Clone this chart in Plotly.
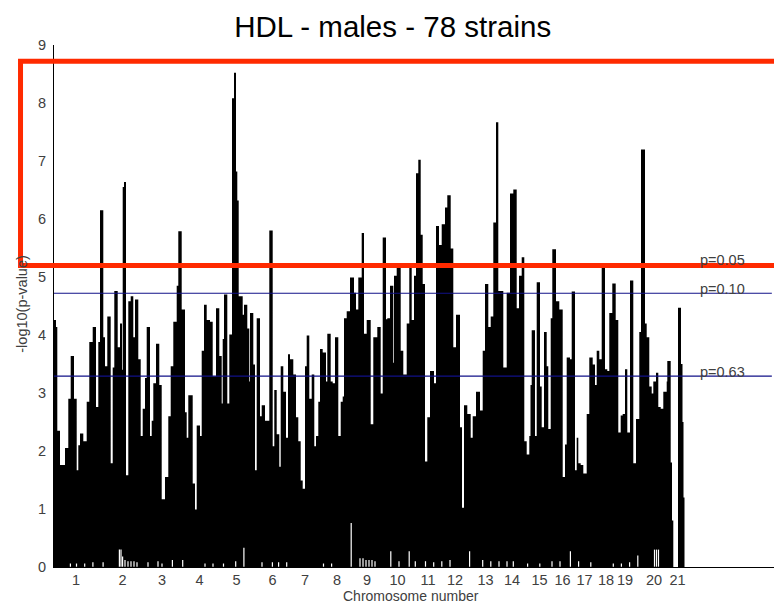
import plotly.graph_objects as go

# ---------------- data ----------------
title_text = "HDL - males - 78 strains"

# chromosome label positions along the cumulative genome axis
chrom_labels = [str(i) for i in range(1, 22)]
chrom_mid = [22, 68.5, 108, 145.5, 182.5, 218.5, 251, 283, 313, 343.5,
             374, 401, 431.5, 458, 485.5, 508.5, 530.5, 552, 571, 600, 623.5]

# cumulative marker position (start of each step) and -log10(p) value
pos = [0, 2, 3.3, 6, 11, 14.3, 16.7, 20, 22.7, 24.3, 26, 29.3, 32.7, 35.3, 38.7,
       42, 44.3, 46, 49.3, 51, 53.3, 56.7, 58.7, 60.3, 63.7, 66, 68, 68.7, 70, 72,
       74.3, 76.7, 79.3, 81, 84.3, 86.7, 88.7, 91, 92.7, 96, 97.7, 99.3, 102, 105.3,
       107.7, 111, 114.3, 116.7, 119.3, 122.7, 124.3, 127.7, 131, 132.7, 134.3,
       138.7, 141, 142.7, 146, 147.7, 150, 152.7,
       156, 158.7, 162, 165.3, 167.7, 168.7, 170, 173.3, 175.3, 178, 180, 182, 183.3,
       184.7, 188.7, 190, 193.3, 195.3, 196, 199.3, 201, 202.7, 206, 207.7, 211,
       215.3, 218.7, 220.3, 222.7, 225.3, 226.7, 229.3, 232, 234, 236, 239.3, 242,
       244.3, 246.7, 248.7, 251, 252.7, 255.3, 257.7, 260.3, 262, 264.3, 266, 268.7,
       272, 273.3, 276.7, 278.7, 281, 284.3, 286.7, 288.7, 290, 292.7, 296, 300, 302,
       304.3, 307.7, 310, 312.7, 316.7, 319.3,
       323.3, 326.7, 328.7, 332, 333.3, 336, 339.3, 340, 342.7, 346.7, 349.3, 352.7,
       355.3, 357.7, 360, 362, 364.3, 366.7, 368.7, 371, 373.3, 376, 380, 382, 385,
       387.7, 391, 393.3, 396.7, 399.3, 402, 406, 408, 410, 413.3, 416.7, 418.7, 422,
       426, 428.7, 431, 434.3, 436.7, 439.3, 442, 444.3, 449.3, 452.7, 456, 459.3,
       462.7, 465, 467.7, 470.3, 472.7, 475.3,
       476.5, 477.7, 481, 482.7, 486, 487.7, 490, 492.7, 494.3, 496.7, 498.3, 502,
       505.3, 508.7, 511, 512.7, 516, 517.7, 521, 522.7, 524.3, 526.7, 529.3, 532.7,
       535.3, 538.7, 541, 542.7, 545.3, 547.7, 551, 553.3, 555.3, 558.3, 561.7, 564.3,
       566.7, 568.7, 571, 573.3, 576, 579.3, 582, 585.3, 587, 591, 592.7, 595.3,
       597.7, 599.3, 602, 604.3, 606.7, 609.3, 612.7, 613.3, 616.7, 618, 619.3,
       624, 627, 628.5, 629.5, 630.5]

logp = [4.26, 4.14, 2.35, 1.76, 2.05, 2.9, 3.64, 2.9, 1.67, 2.1, 2.3, 2.17, 2.85, 3.88, 4.14,
        2.76, 3.88, 6.15, 3.96, 3.46, 4.32, 1.79, 3.44, 4.76, 3.79, 4.2, 3.4, 6.55, 6.64, 1.58,
        4.58, 4.67, 3.96, 4.61, 3.58, 2.26, 2.73, 3.26, 4.14, 2.26, 2.52, 3.17, 3.85, 3.14,
        1.17, 1.55, 2.6, 3.46, 4.23, 4.85, 5.79, 4.44, 2.67, 2.23, 2.96,
        1.44, 0.99, 2.44, 2.26, 3.73, 4.52, 4.26,
        4.23, 3.29, 4.46, 3.64, 2.82, 3.93, 4.7, 2.82, 4.01, 8.08, 8.52, 6.82, 6.32,
        4.67, 4.35, 4.52, 4.11, 3.2, 4.38, 3.49, 1.67, 4.29, 2.6, 2.79, 2.52,
        5.8, 2.08, 3.05, 2.29, 1.73, 3.46, 3.02, 2.23, 3.67, 3.58, 3.32, 2.58,
        2.17, 1.49, 1.35, 3.46, 3.99, 2.9, 3.32, 2.08, 2.26, 2.85, 3.76, 3.7,
        3.2, 4.02, 3.2, 3.17, 3.96, 2.26, 2.85, 2.94, 4.29, 4.41, 4.99, 4.73, 4.44,
        4.99, 5.76, 4.02, 4.26, 2.46, 3.96,
        4.14, 2.99, 5.68, 4.27, 4.29, 4.85, 3.52, 5.02, 5.17, 3.73, 3.32, 4.2,
        5.17, 4.26, 5.02, 6.79, 7.02, 5.73, 4.88, 1.82, 2.58, 3.38, 3.17, 5.88, 5.55,
        5.91, 6.2, 6.41, 5.49, 3.79, 4.35, 2.41, 1.02, 2.79, 2.64, 2.23, 2.6, 3.02,
        2.7, 3.73, 4.88, 4.14, 4.32, 5.94, 7.67, 4.76, 3.44, 4.73, 6.44, 6.51,
        4.46, 5.02, 5.34, 2.17, 1.94, 2.26,
        3.14, 4.08, 2.26, 4.91, 3.11, 2.41, 4.05, 3.46, 2.38, 4.29, 5.48, 4.58,
        4.44, 1.55, 2.11, 3.61, 3.58, 4.75, 1.67, 2.23, 1.79, 1.76, 1.61, 2.64,
        3.61, 3.49, 3.14, 3.73, 3.58, 5.17, 3.41, 3.38, 4.38, 4.89, 4.26, 2.32,
        2.61, 2.64, 3.41, 2.32, 4.94, 1.79, 2.55, 4.05, 7.2, 4.2, 3.96, 3.11,
        2.99, 3.2, 3.35, 2.76, 2.73, 3.02, 3.2, 3.55, 1.8, 0.8, 0.0,
        4.47, 3.5, 2.5, 1.2, 0.0]

# spots near the baseline where no marker reaches zero (position, floor value)
floor_pos = [16.4, 22.5, 30.7, 38.9, 49.1, 65.4, 67, 68.6, 71, 74, 77, 80, 83,
             94, 104, 108, 118.4, 128.7, 151, 159, 169.5, 181.7, 189.9, 208, 218.4,
             224.6, 232.7, 269.5, 277.6, 297.2, 306, 309, 312, 315, 318, 321,
             336.8, 345, 355.2, 361.3, 371.5, 379.7, 387.8, 396, 415.6, 428.7,
             436.8, 445, 453, 459.3, 473.6, 485.8, 498, 506, 516.4, 524.6, 536.8,
             559.3, 567.4, 575.6, 583.8, 600.5, 602.5, 604.5]
floor_val = [0.06, 0.06, 0.06, 0.08, 0.08, 0.3, 0.3, 0.18, 0.12, 0.1, 0.1, 0.1, 0.08,
             0.08, 0.1, 0.06, 0.12, 0.12, 0.06, 0.06, 0.06, 0.1, 0.33, 0.08, 0.08,
             0.08, 0.08, 0.06, 0.06, 0.76, 0.15, 0.15, 0.12, 0.12, 0.12, 0.1,
             0.27, 0.1, 0.27, 0.1, 0.1, 0.08, 0.1, 0.12, 0.27, 0.12,
             0.1, 0.1, 0.1, 0.1, 0.06, 0.06, 0.1, 0.1, 0.27, 0.1, 0.08,
             0.06, 0.06, 0.08, 0.2, 0.3, 0.3, 0.3]

threshold_vals = [5.23, 4.72, 3.29]
threshold_text = ["p=0.05", "p=0.10", "p=0.63"]

highlight_low, highlight_high = 5.2, 8.72   # region marked in red

# ---------------- figure ----------------
fig = go.Figure()

fig.add_trace(go.Scatter(
    x=list(pos), y=list(logp), mode="lines", line_shape="hv",
    line=dict(width=0, color="black"), fill="tozeroy", fillcolor="black",
    hoverinfo="skip", showlegend=False))

fx, fy = [], []
for p, v in zip(floor_pos, floor_val):
    fx += [p, p, None]
    fy += [0.005, v, None]
fig.add_trace(go.Scatter(x=fx, y=fy, mode="lines",
                         line=dict(color="white", width=1.2),
                         hoverinfo="skip", showlegend=False))

small_font = dict(family="Liberation Sans, Arial, sans-serif", size=14.5, color="#404040")

shapes = []
annotations = []
for v, t in zip(threshold_vals, threshold_text):
    shapes.append(dict(type="line", xref="paper", yref="y", x0=0, x1=0.997, y0=v, y1=v,
                       line=dict(color="#101088", width=1.2), layer="above"))
    annotations.append(dict(text=t, xref="paper", yref="y", x=0.894, y=v,
                            xanchor="left", yanchor="middle", yshift=4,
                            showarrow=False, font=small_font))

shapes.append(dict(type="rect", xref="paper", yref="paper",
                   x0=-0.0465, x1=1.05, y0=highlight_low / 9, y1=highlight_high / 9,
                   line=dict(color="#ff2a00", width=5), fillcolor="rgba(0,0,0,0)",
                   layer="above"))

annotations.append(dict(text="-log10(p-value)", textangle=-90, xref="paper", yref="paper",
                        x=-0.044, y=0.505, xanchor="center", yanchor="middle",
                        showarrow=False, font=small_font))
annotations.append(dict(text="Chromosome number", xref="paper", yref="paper",
                        x=0.496, y=-0.056, xanchor="center", yanchor="middle",
                        showarrow=False, font=dict(small_font, size=14)))

# the page body adds an 8px offset, so the figure is 8px smaller on each side
fig.update_layout(
    width=774, height=597,
    margin=dict(l=46, r=8, t=37, b=38, autoexpand=False),
    paper_bgcolor="white", plot_bgcolor="white",
    title=dict(text=title_text, x=0.497, xref="container", y=0.968, yref="container",
               xanchor="center", yanchor="middle",
               font=dict(family="Liberation Sans, Arial, sans-serif", size=29.5, color="black")),
    shapes=shapes, annotations=annotations,
    xaxis=dict(range=[0, 720], tickvals=chrom_mid, ticktext=chrom_labels,
               showgrid=False, zeroline=False, showline=True, linecolor="black",
               linewidth=1, ticks="", tickfont=small_font, automargin=False),
    yaxis=dict(range=[0, 9], tickvals=list(range(10)), showgrid=False, zeroline=False,
               showline=True, linecolor="black", linewidth=1, ticks="outside",
               ticklen=4, tickcolor="rgba(0,0,0,0)", tickfont=small_font, automargin=False),
)

fig.write_html("out.html")
